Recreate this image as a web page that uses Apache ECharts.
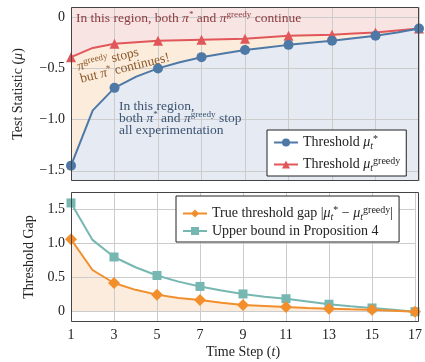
<!DOCTYPE html>
<html><head><meta charset="utf-8">
<script src="https://cdn.jsdelivr.net/npm/echarts@6/dist/echarts.min.js"></script>
<style>html,body{margin:0;padding:0;background:#fff}#c{width:425px;height:362px}</style>
</head><body><div id="c"></div>
<script>
const timeSteps = ['1','2','3','4','5','6','7','8','9','10','11','12','13','14','15','16','17'];
const muStar = [-1.45, -0.91, -0.69, -0.58, -0.50, -0.44, -0.39, -0.355, -0.32, -0.295, -0.27, -0.25, -0.23, -0.205, -0.18, -0.15, -0.11];
const muGreedy = [-0.39, -0.30, -0.26, -0.245, -0.23, -0.225, -0.22, -0.215, -0.21, -0.195, -0.18, -0.175, -0.17, -0.16, -0.15, -0.13, -0.11];
const trueGap = [1.06, 0.61, 0.42, 0.32, 0.25, 0.20, 0.17, 0.13, 0.10, 0.085, 0.07, 0.055, 0.045, 0.035, 0.03, 0.015, 0.0];
const upperBound = [1.59, 1.05, 0.80, 0.65, 0.53, 0.44, 0.37, 0.31, 0.26, 0.22, 0.19, 0.15, 0.11, 0.08, 0.055, 0.03, 0.0];

const FONT = 'Liberation Serif';
const GRID_C = '#cccccc';
const C_BLUE = '#4e79a7', C_RED = '#e15759', C_ORANGE = '#f28e2b', C_TEAL = '#76b7b2';

function halfLabel(v) {
  const r = Math.round(v * 2);
  if (Math.abs(v * 2 - r) > 1e-6) return '';
  if (r === 0) return '0';
  return (v < 0 ? '\u2212' : '') + Math.abs(v).toFixed(1);
}
function marked(arr) {
  return arr.map((v, i) => i % 2 === 0 ? v : { value: v, symbol: 'none' });
}
const FS = 14;
const richBase = {
  n: { fontFamily: FONT, fontSize: FS, color: '#222' },
  i: { fontFamily: FONT, fontSize: FS, color: '#222', fontStyle: 'italic' },
  sub: { fontFamily: FONT, fontSize: 10, color: '#222', fontStyle: 'italic', padding: [7, 0, 0, 0] },
  sup: { fontFamily: FONT, fontSize: 10, color: '#222', padding: [0, 0, 7, 0] }
};
const chart = echarts.init(document.getElementById('c'), null, { renderer: 'canvas' });
const names = {
  mu: 'Threshold μ*', gr: 'Threshold μgreedy',
  gap: 'True threshold gap', ub: 'Upper bound in Proposition 4'
};
const lblFmt = {
  [names.mu]: '{n|Threshold }{i|μ}{sub|t}{sup|*}',
  [names.gr]: '{n|Threshold }{i|μ}{sub|t}{sup|greedy}',
  [names.gap]: '{n|True threshold gap |}{i|μ}{sub|t}{sup|*}{n| \u2212 }{i|μ}{sub|t}{sup|greedy}{n||}',
  [names.ub]: '{n|Upper bound in Proposition 4}'
};
function annot(color, size, lh) {
  return {
    a: { fontFamily: FONT, fontSize: size, fill: color, lineHeight: lh },
    i: { fontFamily: FONT, fontSize: size, fill: color, fontStyle: 'italic', lineHeight: lh },
    sup: { fontFamily: FONT, fontSize: size * 0.68, fill: color, padding: [0, 0, 7, 0], lineHeight: lh }
  };
}
const option = {
  animation: false,
  grid: [
    { left: 71, top: 7, width: 348, height: 174, show: true, backgroundColor: '#f9e4e4', borderWidth: 0 },
    { left: 71, top: 192, width: 348, height: 130, show: false }
  ],
  xAxis: [
    { type: 'category', gridIndex: 0, data: timeSteps, boundaryGap: false, z: 2,
      axisLine: { show: false }, axisTick: { show: false }, axisLabel: { show: false },
      splitLine: { show: true, interval: 1, lineStyle: { color: GRID_C, width: 1 } } },
    { type: 'category', gridIndex: 1, data: timeSteps, boundaryGap: false, z: 2,
      axisLine: { show: false }, axisTick: { show: false },
      axisLabel: { interval: 1, fontFamily: FONT, fontSize: FS, color: '#222', margin: 6 },
      splitLine: { show: true, interval: 1, lineStyle: { color: GRID_C, width: 1 } },
      name: '{n|Time Step (}{i|t}{n|)}', nameLocation: 'middle', nameGap: 23,
      nameTextStyle: { rich: richBase } }
  ],
  yAxis: [
    { type: 'value', gridIndex: 0, min: -1.6, max: 0.1, interval: 0.1, z: 2,
      axisLine: { show: false }, axisTick: { show: false },
      axisLabel: { formatter: halfLabel, fontFamily: FONT, fontSize: FS, color: '#222', margin: 6 },
      splitLine: { show: true, lineStyle: { color: ['transparent', GRID_C, 'transparent', 'transparent', 'transparent'], width: 1 } },
      name: '{n|Test Statistic (}{i|μ}{n|)}', nameLocation: 'middle', nameGap: 46, nameRotate: 90,
      nameTextStyle: { rich: richBase } },
    { type: 'value', gridIndex: 1, min: -0.15, max: 1.75, interval: 0.05, z: 2,
      axisLine: { show: false }, axisTick: { show: false },
      axisLabel: { formatter: halfLabel, fontFamily: FONT, fontSize: FS, color: '#222', margin: 6 },
      splitLine: { show: true, lineStyle: { color: ['transparent', 'transparent', 'transparent', GRID_C, 'transparent', 'transparent', 'transparent', 'transparent', 'transparent', 'transparent'], width: 1 } },
      name: '{n|Threshold Gap}', nameLocation: 'middle', nameGap: 34, nameRotate: 90,
      nameTextStyle: { rich: richBase } }
  ],
  legend: [
    { data: [names.mu, names.gr], left: 267, top: 130, orient: 'vertical', itemGap: 5, itemWidth: 24, itemHeight: 10,
      backgroundColor: '#fff', borderColor: '#222', borderWidth: 1, borderRadius: 0, padding: [4, 6, 3, 6],
      formatter: n => lblFmt[n], textStyle: { rich: richBase } },
    { data: [names.gap, names.ub], left: 176, top: 196, orient: 'vertical', itemGap: 2, itemWidth: 24, itemHeight: 10,
      backgroundColor: '#fff', borderColor: '#222', borderWidth: 1, borderRadius: 0, padding: [9, 6, 4, 6],
      formatter: n => lblFmt[n], textStyle: { rich: richBase } }
  ],
  series: [
    { name: 'greedyArea', type: 'line', xAxisIndex: 0, yAxisIndex: 0, data: muGreedy, symbol: 'none', silent: true, z: 1,
      lineStyle: { width: 0 }, areaStyle: { color: '#fcecdc', opacity: 1, origin: 'start' } },
    { name: 'starArea', type: 'line', xAxisIndex: 0, yAxisIndex: 0, data: muStar, symbol: 'none', silent: true, z: 1,
      lineStyle: { width: 0 }, areaStyle: { color: '#e5eaf3', opacity: 1, origin: 'start' } },
    { name: names.gr, type: 'line', xAxisIndex: 0, yAxisIndex: 0, data: marked(muGreedy), z: 3,
      symbol: 'triangle', symbolSize: 10, showAllSymbol: true, color: C_RED, lineStyle: { width: 2, color: C_RED }, itemStyle: { color: C_RED } },
    { name: names.mu, type: 'line', xAxisIndex: 0, yAxisIndex: 0, data: marked(muStar), z: 3,
      symbol: 'circle', symbolSize: 10, showAllSymbol: true, color: C_BLUE, lineStyle: { width: 2, color: C_BLUE }, itemStyle: { color: C_BLUE } },
    { name: 'gapArea', type: 'line', xAxisIndex: 1, yAxisIndex: 1, data: trueGap, symbol: 'none', silent: true, z: 1,
      lineStyle: { width: 0 }, areaStyle: { color: '#fcecdd', opacity: 1 } },
    { name: names.ub, type: 'line', xAxisIndex: 1, yAxisIndex: 1, data: marked(upperBound), z: 3,
      symbol: 'rect', symbolSize: 9, showAllSymbol: true, color: C_TEAL, lineStyle: { width: 2, color: C_TEAL }, itemStyle: { color: C_TEAL } },
    { name: names.gap, type: 'line', xAxisIndex: 1, yAxisIndex: 1, data: marked(trueGap), z: 4,
      symbol: 'diamond', symbolSize: 12, showAllSymbol: true, color: C_ORANGE, lineStyle: { width: 2, color: C_ORANGE }, itemStyle: { color: C_ORANGE } }
  ],
  graphic: [
    { type: 'rect', z: 100, silent: true, shape: { x: 71.5, y: 7.5, width: 347, height: 173 }, style: { fill: 'none', stroke: '#444', lineWidth: 1 } },
    { type: 'rect', z: 100, silent: true, shape: { x: 71.5, y: 192.5, width: 347, height: 129 }, style: { fill: 'none', stroke: '#444', lineWidth: 1 } },
    { type: 'text', z: 50, silent: true, x: 76, y: 18,
      style: { text: '{a|In this region, both }{i|π}{sup|*}{a| and }{i|π}{sup|greedy}{a| continue}', verticalAlign: 'middle', rich: annot('#8c3b3e', 13.5) } },
    { type: 'text', z: 50, silent: true, x: 76, y: 61, rotation: 0.24,
      style: { text: '{i|π}{sup|greedy}{a| stops}\n{a|but }{i|π}{sup|*}{a| continues!}', verticalAlign: 'top', rich: annot('#8b5a2b', 13.5, 12.5) } },
    { type: 'text', z: 50, silent: true, x: 119, y: 100,
      style: { text: '{a|In this region,}\n{a|both }{i|π}{sup|*}{a| and }{i|π}{sup|greedy}{a| stop}\n{a|all experimentation}', verticalAlign: 'top', rich: annot('#3b5370', 13.5, 12) } }
  ]
};
chart.setOption(option);
</script>
</body></html>
